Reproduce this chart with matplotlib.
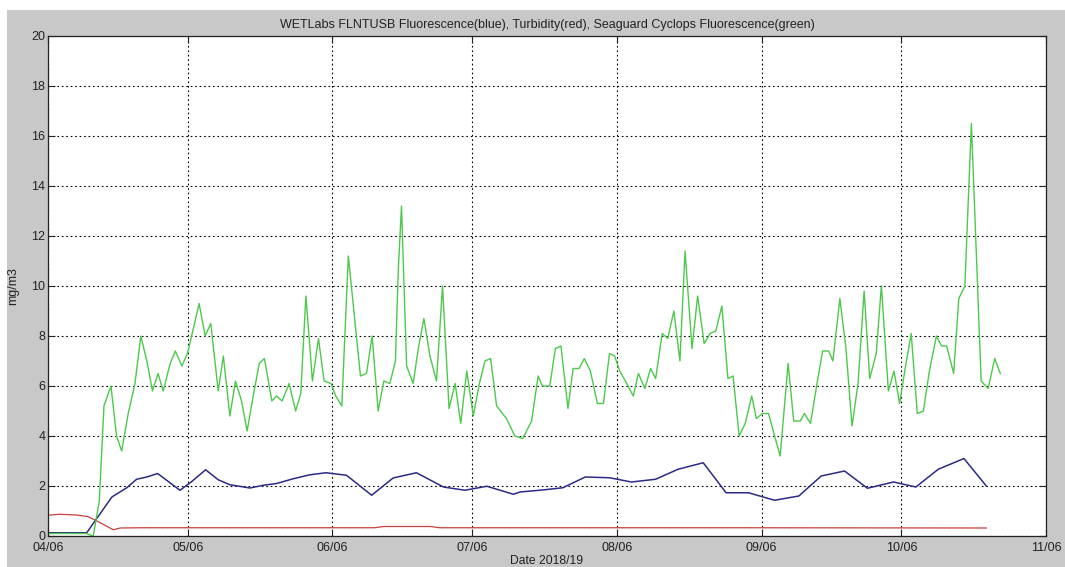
import matplotlib
matplotlib.use("Agg")
import matplotlib.pyplot as plt
import matplotlib.dates as mdates
from matplotlib.patches import Rectangle
import numpy as np
import pandas as pd

start = pd.Timestamp("2018-04-06")

# Seaguard Cyclops fluorescence (green): days since start, mg/m3
green_days = [0, 8.2, 9.7, 11.0, 12.0, 13.5, 14.7, 15.8, 17.2, 18.65, 19.9, 21.2, 22.4, 23.6,
              24.7, 26.2, 27.3, 28.7, 29.9, 30.8, 32.4, 33.7, 34.9, 36.5, 37.6, 39.0, 40.2,
              41.5, 42.7, 44.0, 45.3, 46.4, 48.0, 49.0, 50.2, 51.7, 53.1, 54.2, 55.3, 56.7,
              58.0, 59.2, 60.7, 61.7, 63.0, 64.4, 65.7, 67.0, 68.3, 69.5, 70.8, 72.0, 73.3,
              74.5, 75.1, 75.8, 76.9, 78.3, 79.4, 80.6, 81.9, 83.3, 84.6, 86.0, 87.3, 88.5,
              89.8, 91.2, 92.5, 93.7, 94.9, 96.2, 98.3, 100.1, 101.8, 103.7, 105.1, 106.0,
              107.6, 108.8, 110.0, 111.5, 112.6, 113.9, 115.0, 116.3, 117.8, 119.1, 120.4,
              121.5, 122.6, 124.1, 125.5, 126.6, 128.0, 129.2, 130.3, 131.7, 132.9, 134.2,
              135.5, 136.6, 138.1, 139.3, 140.7, 142.0, 143.2, 144.5, 145.8, 146.9, 148.2,
              149.5, 150.9, 151.9, 153.2, 154.5, 155.8, 157.0, 158.7, 159.9, 161.3, 162.2,
              163.5, 164.9, 166.1, 167.4, 168.3, 169.8, 171.1, 172.4, 173.7, 175.0, 176.2,
              177.6, 178.7, 180.2, 181.4, 182.6, 183.8, 185.1, 186.4, 187.7, 189.0, 190.5,
              191.6, 192.7, 194.2, 195.3, 196.6, 198.0, 200.1, 201.6, 203.0, 204.2]
green_vals = [0.1, 0.1, 0.0, 1.4, 5.2, 6.0, 4.0, 3.4, 4.9, 6.1, 8.0, 7.0, 5.8, 6.5,
              5.8, 6.9, 7.4, 6.8, 7.3, 8.0, 9.3, 8.0, 8.5, 5.8, 7.2, 4.8, 6.2,
              5.4, 4.2, 5.6, 6.9, 7.1, 5.4, 5.6, 5.4, 6.1, 5.0, 5.7, 9.6, 6.2,
              7.9, 6.2, 6.1, 5.6, 5.2, 11.2, 8.8, 6.4, 6.5, 8.0, 5.0, 6.2, 6.1,
              7.0, 10.6, 13.2, 6.8, 6.1, 7.5, 8.7, 7.2, 6.2, 10.0, 5.1, 6.1, 4.5,
              6.6, 4.8, 6.1, 7.0, 7.1, 5.2, 4.7, 4.0, 3.9, 4.6, 6.4, 6.0,
              6.0, 7.5, 7.6, 5.1, 6.7, 6.7, 7.1, 6.6, 5.3, 5.3, 7.3,
              7.2, 6.6, 6.1, 5.6, 6.5, 5.9, 6.7, 6.3, 8.1, 7.9, 9.0,
              7.0, 11.4, 7.5, 9.6, 7.7, 8.1, 8.2, 9.2, 6.3, 6.4, 4.0,
              4.5, 5.6, 4.7, 4.9, 4.9, 4.0, 3.2, 6.9, 4.6, 4.6, 4.9,
              4.5, 6.1, 7.4, 7.4, 7.0, 9.5, 7.5, 4.4, 6.1, 9.8, 6.3,
              7.3, 10.0, 5.8, 6.6, 5.3, 6.7, 8.1, 4.9, 5.0, 6.6, 8.0,
              7.6, 7.6, 6.5, 9.5, 10.0, 16.5, 6.2, 5.9, 7.1, 6.5]

# WETLabs FLNTUSB fluorescence (blue)
blue_days = [0, 8.3, 13.7, 16.9, 19.0, 21.2, 23.5, 28.3, 30.7, 33.8, 36.5, 39.0, 43.3,
             46.2, 49.0, 52.6, 56.2, 59.6, 64.0, 69.4, 74.0, 79.0, 84.8, 89.4, 94.1,
             99.8, 101.2, 106.0, 110.4, 115.2, 120.4, 125.1, 130.3, 135.1, 140.5,
             145.4, 150.2, 155.8, 161.0, 165.8, 170.8, 175.7, 181.3, 186.1, 190.9,
             196.4, 201.2]
blue_vals = [0.13, 0.13, 1.56, 1.93, 2.27, 2.36, 2.5, 1.83, 2.16, 2.65, 2.25, 2.05, 1.92,
             2.03, 2.1, 2.29, 2.45, 2.53, 2.43, 1.63, 2.32, 2.53, 1.96, 1.83, 1.99,
             1.67, 1.76, 1.84, 1.93, 2.36, 2.33, 2.16, 2.27, 2.67, 2.93,
             1.73, 1.73, 1.43, 1.6, 2.4, 2.6, 1.91, 2.16, 1.96, 2.67,
             3.1, 2.0]

# WETLabs turbidity (red)
red_days = [0, 2.5, 6.0, 8.5, 10.5, 12.5, 14.0, 15.5, 20.0, 70.0, 72.0, 82.0, 84.0,
            150.0, 201.2]
red_vals = [0.83, 0.87, 0.84, 0.78, 0.6, 0.4, 0.25, 0.32, 0.33, 0.33, 0.38, 0.38, 0.33,
            0.33, 0.32]


def to_dates(days):
    return start + pd.to_timedelta(np.array(days), unit="D")


plt.rcParams["font.family"] = ["Liberation Sans", "DejaVu Sans"]

fig = plt.figure(figsize=(10.65, 5.67), dpi=100, facecolor="white")
# grey window background, with a thin white strip on top and left
fig.patches.append(Rectangle((7 / 1065, 0), 1, 1 - 10 / 567, transform=fig.transFigure,
                             facecolor="#c8c8c8", edgecolor="none", zorder=-10))
ax = fig.add_axes([48 / 1065, 31 / 567, 998 / 1065, 500 / 567])
ax.set_facecolor("white")

ax.plot(to_dates(red_days), red_vals, color="#c8403a", lw=0.9)
ax.plot(to_dates(blue_days), blue_vals, color="#2b2b86", lw=1.1)
ax.plot(to_dates(green_days), green_vals, color="#4cc94c", lw=1.0)

ax.set_xlim(start, pd.Timestamp("2018-11-06"))
ax.set_ylim(0, 20)
ax.set_yticks(np.arange(0, 21, 2))
ax.xaxis.set_major_locator(mdates.MonthLocator(bymonthday=6))
ax.xaxis.set_major_formatter(mdates.DateFormatter("%m/%d"))

ax.grid(True, color="black", linestyle=(0, (1.5, 2.5)), linewidth=0.8)
ax.tick_params(direction="in", top=True, right=True, labelsize=9,
               length=5, width=0.8, colors="#222222", pad=2)
ax.tick_params(axis="x", pad=4)
for sp in ax.spines.values():
    sp.set_linewidth(0.9)
    sp.set_color("#222222")

ax.set_title("WETLabs FLNTUSB Fluorescence(blue), Turbidity(red), Seaguard Cyclops Fluorescence(green)",
             fontsize=9, color="#222222", pad=6)
ax.set_xlabel("Date 2018/19", fontsize=8.7, color="#222222", labelpad=1)
ax.set_ylabel("mg/m3", fontsize=9, color="#222222", labelpad=9)

fig.savefig("out.png", dpi=100, facecolor=fig.get_facecolor())
